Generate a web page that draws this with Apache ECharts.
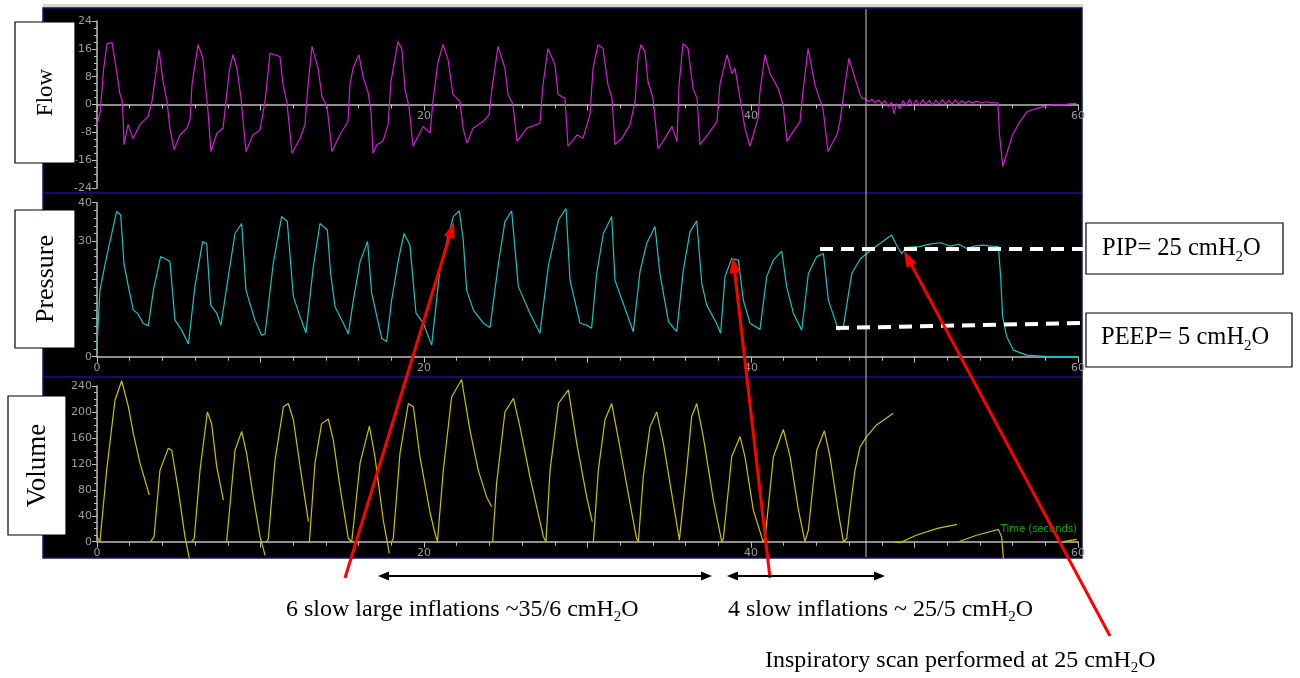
<!DOCTYPE html>
<html>
<head>
<meta charset="utf-8">
<script src="https://cdn.jsdelivr.net/npm/echarts@6/dist/echarts.min.js"></script>
<style>
  html, body { margin: 0; padding: 0; background: #fff; }
  #chart { width: 1300px; height: 678px; }
</style>
</head>
<body>
<div id="chart"></div>
<script>
// time axis (seconds)
var timeTicks = [0, 20, 40, 60];

// flow trace [t, flow]
var flowData = [
  [0, -6], [0.2, -2], [0.4, 10], [0.61, 17.5], [0.92, 17.8], [0.98, 16], [1.22, 9], [1.4, 3], [1.53, 1.4], [1.6, -4],
  [1.65, -11.5], [1.9, -5.7], [2.2, -9.8], [2.63, -5.8], [3.12, -3.4], [3.36, 0.8], [3.6, 9], [3.79, 15.8], [4.04, 6.6], [4.28, 0.9],
  [4.46, -6.8], [4.71, -13], [5.08, -8.7], [5.5, -6.8], [5.69, -4.4], [5.81, 5.7], [6.18, 17.2], [6.48, 13.3], [6.67, 3.7], [6.79, -2],
  [6.97, -13.5], [7.34, -8.2], [7.71, -6.8], [7.89, 0.9], [8.1, 10], [8.32, 14.3], [8.56, 10.4], [8.81, 1.8], [9.11, -13.5], [9.54, -8.7],
  [9.97, -7.3], [10.28, 0.9], [10.58, 14.7], [11.19, 13.8], [11.38, 5.7], [11.62, 0.4], [11.93, -14], [12.42, -9.7], [12.72, -5.8], [12.91, 5.7],
  [13.15, 16.7], [13.52, 10.4], [13.76, 2.3], [14.07, -0.6], [14.37, -13.5], [14.86, -8.7], [15.35, -4.9], [15.47, 5.7], [15.66, 10.4], [16.02, 14.3],
  [16.27, 8], [16.57, 3.7], [16.76, -2], [16.88, -14], [17.13, -11.5], [17.49, -10.6], [17.8, -5.8], [17.98, 6.6], [18.41, 18.1], [18.65, 15.8],
  [18.84, 4.3], [19.08, -0.6], [19.33, -12], [19.94, -6.3], [20.37, -8.2], [20.55, 0.9], [20.85, 12], [21.16, 17.2], [21.47, 12.9], [21.77, 2.9],
  [22.2, 0.9], [22.39, -6.8], [22.63, -11.1], [23.0, -6.8], [23.61, -4.9], [23.98, -3], [24.16, 4.7], [24.53, 16.7], [24.95, 10.4], [25.14, 2.9],
  [25.44, 0], [25.69, -10.6], [26.3, -6.8], [27.09, -5.4], [27.28, 5.7], [27.58, 16.1], [28.01, 11.5], [28.2, 2.9], [28.62, 1.8], [28.81, -12],
  [29.36, -8.7], [29.72, -9.7], [30.15, -3], [30.34, 10.4], [30.64, 17.2], [30.95, 16.1], [31.25, 5.7], [31.5, 1.8], [31.68, -11.5], [32.11, -9.7],
  [32.6, -5.8], [32.91, 0.9], [33.09, 13.3], [33.27, 17.2], [33.52, 15.2], [33.7, 6.6], [34.01, 1.8], [34.31, -12.6], [34.62, -10.6], [35.17, -6.3],
  [35.47, -10.6], [35.6, 5.7], [35.84, 17.5], [36.15, 16.1], [36.45, 4.7], [36.7, 1.8], [36.88, -11.5], [37.49, -7.8], [37.92, -4.9], [38.1, 5.7],
  [38.53, 14.3], [38.84, 8.9], [39.02, 10.4], [39.33, 1.8], [39.63, -6.8], [39.94, -12], [40.43, -4], [40.55, 3.7], [40.86, 14.3], [41.16, 8.9],
  [41.65, 4.7], [41.96, 0], [42.2, -10.6], [42.57, -7.8], [43.0, -4.9], [43.18, 3.7], [43.49, 16.1], [43.91, 5.7], [44.1, 2.9], [44.4, -1.1],
  [44.71, -13.5], [45.26, -8.7], [45.44, -4.9], [45.75, 5.7], [45.99, 13.3], [46.36, 7.5], [46.67, 2.9], [46.79, 1.8],
  [47.0, 1.6], [47.2, 0.8], [47.4, 1.5], [47.6, 0.5], [47.8, 1.3], [48.0, 0.2], [48.2, 1.1], [48.4, -0.6], [48.6, 0.6], [48.75, -2.6],
  [48.9, 0.3], [49.1, -1.2], [49.3, 1.1], [49.5, -0.4], [49.7, 1.4], [49.9, -0.3], [50.1, 1.3], [50.3, -0.2], [50.5, 1.4], [50.7, 0],
  [50.9, 1.2], [51.1, -0.3], [51.3, 1.3], [51.5, 0], [51.7, 1.4], [51.9, 0.1], [52.1, 1.2], [52.3, 0.1], [52.5, 1.3], [52.7, 0.2],
  [52.9, 1.1], [53.1, 0.3], [53.3, 1.0], [53.5, 0.4], [53.8, 0.9], [54.1, 0.5], [54.4, 0.8], [54.7, 0.5], [55.1, 0.5], [55.2, -8.7],
  [55.4, -17.8], [56.0, -8.7], [56.45, -4.9], [56.9, -2], [57.5, -1.1], [57.9, -0.6], [58.5, 0], [59.0, -0.2], [59.5, 0.2], [59.9, 0.3]
];

// pressure trace [t, cmH2O]
var pressureData = [
  [0, 2.6], [0.18, 17.3], [0.59, 26], [1.2, 37.7], [1.45, 36.8], [1.65, 24.2], [1.92, 18.2], [2.22, 12.1], [2.47, 11.3], [2.83, 8.7],
  [3.14, 8], [3.45, 17.3], [3.89, 26], [4.16, 25.5], [4.46, 24.7], [4.77, 9.5], [5.18, 6.9], [5.59, 3.3], [5.99, 18.2], [6.46, 29.9],
  [6.71, 29.4], [6.95, 13.4], [7.32, 11.3], [7.58, 8.2], [8.03, 20.8], [8.44, 32], [8.85, 34.6], [9.11, 17.3], [9.66, 9.5], [10.07, 5.6],
  [10.28, 5.9], [10.78, 24.2], [11.29, 36.4], [11.64, 35.1], [12.01, 15.6], [12.42, 10.4], [12.78, 6.2], [13.23, 23.4], [13.64, 34.6], [14.09, 32.9],
  [14.29, 21.6], [14.56, 13], [15.07, 8.7], [15.37, 5.9], [15.68, 14.7], [16.09, 24.7], [16.55, 29.9], [16.8, 16.5], [17.41, 4.8], [17.72, 3.9],
  [18.02, 14.7], [18.43, 25.1], [18.78, 32], [19.14, 29], [19.51, 11.3], [19.96, 8.7], [20.47, 3], [20.98, 23], [21.79, 36.4], [22.16, 37.9],
  [22.4, 30.3], [22.61, 17.3], [23.02, 12.1], [23.63, 8.7], [24.04, 7.6], [24.55, 24.2], [24.95, 35.1], [25.36, 37.9], [25.77, 18.2], [26.48, 11.3],
  [27.09, 6.1], [27.6, 23.4], [28.22, 35.5], [28.69, 38.5], [28.93, 19.9], [29.54, 8.7], [29.95, 8.2], [30.25, 7.4], [30.56, 21.6], [30.97, 32],
  [31.48, 36.4], [31.68, 19.9], [32.29, 12.6], [32.8, 6.5], [33.21, 22.1], [33.62, 29.4], [34.13, 33.8], [34.43, 21.6], [34.95, 9.1], [35.46, 6.5],
  [35.86, 22.5], [36.27, 32.5], [36.68, 35.3], [36.99, 19], [37.29, 13.4], [37.89, 8.7], [38.14, 6.1], [38.41, 20.8], [38.82, 25.5], [39.23, 25.1],
  [39.53, 14.7], [39.94, 8.7], [40.55, 7.1], [40.96, 20.8], [41.37, 25.1], [41.88, 27.4], [42.18, 18.2], [42.59, 11.3], [43.1, 6.9], [43.51, 21.6],
  [44.02, 26], [44.43, 26.8], [44.73, 14.7], [45.35, 6.9], [45.65, 7.8], [46.16, 21.6], [46.67, 25.3], [47.28, 27.5], [47.89, 29.4], [48.6, 31.6],
  [48.9, 29], [49.21, 26.8], [49.5, 28.4], [50.3, 28.6], [51.0, 29.3], [51.6, 29.6], [52.2, 28.7], [52.7, 29.2], [53.2, 28.1], [53.7, 28.8],
  [54.2, 29], [54.7, 28.7], [55.13, 28.6], [55.27, 20.8], [55.39, 10.4], [55.64, 5.2], [56.05, 1.7], [56.86, 0.4], [58, 0.1], [59.92, 0]
];

// volume trace [t, ml], null = pen lifted
var volumeData = [
  [0, 7.7], [0.18, 0], [0.3, 0], [0.59, 110], [1.1, 218], [1.51, 248], [1.92, 208], [2.22, 167], [2.63, 121], [3.2, 72], null,
  [3.28, 0], [3.49, 7.7], [3.85, 110], [4.36, 144], [4.57, 141], [4.97, 80], [5.38, 7.7], [5.65, -26], null,
  [5.79, 0], [5.95, 5], [6.3, 110], [6.75, 200], [7.01, 182], [7.32, 116], [7.73, 64], null,
  [7.93, 0], [8.03, 2.5], [8.44, 141], [8.85, 170], [9.15, 136], [9.56, 69], [9.97, 7.7], [10.28, -21], null,
  [10.38, 0], [10.48, 5], [10.89, 126], [11.4, 208], [11.7, 213], [12.01, 188], [12.42, 116], [12.93, 31], null,
  [12.99, 0], [13.33, 121], [13.74, 182], [14.15, 189], [14.45, 157], [14.86, 85], [15.37, 5], [15.58, 0],
  [15.68, 2.5], [16.09, 121], [16.66, 178], [17.0, 131], [17.51, 33], [17.88, -18], null,
  [18.02, 0], [18.12, 5], [18.53, 136], [19.04, 213], [19.35, 208], [19.75, 131], [20.37, 45], [20.67, 13], [20.82, 0],
  [21.18, 110], [21.69, 223], [22.3, 250], [22.81, 172], [23.32, 110], [23.83, 69], [24.14, 54], null,
  [24.2, 0], [24.44, 90], [24.95, 200], [25.47, 221], [25.87, 177], [26.48, 100], [27.3, 7.7], [27.46, 0],
  [27.71, 110], [28.22, 213], [28.83, 234], [29.34, 152], [29.95, 69], [30.29, 31], null,
  [30.36, 0], [30.66, 110], [31.07, 188], [31.48, 213], [31.98, 146], [32.6, 59], [33.0, 5], [33.11, 0],
  [33.41, 100], [33.82, 177], [34.23, 200], [34.64, 152], [35.25, 59], [35.62, 2.5], [35.7, 0],
  [36.06, 110], [36.37, 193], [36.68, 213], [37.08, 162], [37.7, 64], [38.21, 0],
  [38.31, 5], [38.82, 131], [39.33, 162], [39.63, 131], [40.14, 49], [40.65, 7.7], [40.75, 0],
  [40.86, 5], [41.37, 131], [41.98, 173], [42.39, 131], [42.9, 49], [43.3, 0],
  [43.51, 18], [44.02, 141], [44.49, 171], [44.83, 131], [45.35, 44], [45.65, 0],
  [45.85, 5], [46.05, 49], [46.36, 110], [46.67, 146], [47.07, 162], [47.68, 180], [48.7, 198], null,
  [48.8, 0], [49.1, -1.5], [50.1, 10], [51.4, 20.5], [52.6, 26.7], null,
  [52.7, 0], [53.8, 10], [55.13, 19], [55.33, 7.7], [55.44, -26], null,
  [59.1, 0], [59.92, 3.6]
];

var chart = echarts.init(document.getElementById('chart'));

var AXIS = '#bdbdbd';
var LBL = '#9c9c9c';
var SERIF = '"Liberation Serif", "Times New Roman", serif';

function timeAxis(idx, showZero, offset) {
  return {
    type: 'value', gridIndex: idx, min: 0, max: 60, interval: 10,
    offset: offset || 0,
    axisLine: { onZero: false, lineStyle: { color: AXIS, width: 1.5 } },
    axisTick: { length: 6, lineStyle: { color: AXIS } },
    minorTick: { show: true, splitNumber: 5, length: 4, lineStyle: { color: AXIS } },
    splitLine: { show: false },
    axisLabel: {
      color: LBL, fontSize: 11, fontFamily: 'DejaVu Sans', margin: 6,
      formatter: function (v) {
        if (timeTicks.indexOf(v) < 0) return '';
        if (v === 0 && !showZero) return '';
        return v;
      }
    }
  };
}

function valueAxis(idx, min, max, step, minor, hide) {
  return {
    type: 'value', gridIndex: idx, min: min, max: max, interval: step,
    axisLine: { show: true, onZero: false, lineStyle: { color: AXIS, width: 1.5 } },
    axisTick: { show: true, length: 5, lineStyle: { color: AXIS } },
    minorTick: { show: true, splitNumber: minor, length: 3, lineStyle: { color: AXIS } },
    splitLine: { show: false },
    axisLabel: {
      color: LBL, fontSize: 11, fontFamily: 'DejaVu Sans', margin: 5,
      formatter: function (v) { return hide && hide.indexOf(v) >= 0 ? '' : v; }
    }
  };
}

// arrow built from a line and a triangle head
function arrow(x1, y1, x2, y2, color, w, hl, hw, both) {
  var out = [];
  var a = Math.atan2(y2 - y1, x2 - x1);
  function head(tx, ty, ang) {
    var bx = tx - hl * Math.cos(ang), by = ty - hl * Math.sin(ang);
    var px = Math.sin(ang) * hw / 2, py = -Math.cos(ang) * hw / 2;
    return {
      type: 'polygon', z: 100,
      shape: { points: [[tx, ty], [bx + px, by + py], [bx - px, by - py]] },
      style: { fill: color }
    };
  }
  var sx = both ? x1 + (hl - 2) * Math.cos(a) : x1, sy = both ? y1 + (hl - 2) * Math.sin(a) : y1;
  out.push({
    type: 'line', z: 100,
    shape: { x1: sx, y1: sy, x2: x2 - (hl - 2) * Math.cos(a), y2: y2 - (hl - 2) * Math.sin(a) },
    style: { stroke: color, lineWidth: w }
  });
  out.push(head(x2, y2, a));
  if (both) out.push(head(x1, y1, a + Math.PI));
  return out;
}

function labelBox(x, y, w, h, txt, size) {
  return [
    { type: 'rect', z: 100, shape: { x: x, y: y, width: w, height: h }, style: { fill: '#fff', stroke: '#000', lineWidth: 1.2 } },
    { type: 'text', z: 101, x: x + w / 2 + 1, y: y + h / 2, rotation: Math.PI / 2,
      style: { text: txt, fontFamily: SERIF, fontSize: size, fill: '#000', align: 'center', verticalAlign: 'middle' } }
  ];
}

function noteText(x, y, txt, size) {
  return {
    type: 'text', z: 101, x: x, y: y,
    style: {
      text: txt, fontFamily: SERIF, fontSize: size, fill: '#000', lineHeight: size + 6,
      verticalAlign: 'middle',
      rich: { s: { fontFamily: SERIF, fontSize: Math.round(size * 0.62), lineHeight: 10, verticalAlign: 'bottom' } }
    }
  };
}

var graphics = [
  { type: 'rect', z: -10, shape: { x: 43, y: 4, width: 1040, height: 4 }, style: { fill: '#d9d6ce' } },
  { type: 'rect', z: -10, shape: { x: 43, y: 8, width: 1039, height: 550 }, style: { fill: '#000', stroke: '#14146a', lineWidth: 1.5 } },
  { type: 'line', z: -5, shape: { x1: 43, y1: 193, x2: 1082, y2: 193 }, style: { stroke: '#16168c', lineWidth: 1.5 } },
  { type: 'line', z: -5, shape: { x1: 43, y1: 377, x2: 1082, y2: 377 }, style: { stroke: '#16168c', lineWidth: 1.5 } },
  { type: 'line', z: 50, shape: { x1: 866, y1: 9, x2: 866, y2: 557 }, style: { stroke: '#c4c4c4', lineWidth: 1 } },
  { type: 'text', z: 60, x: 1077, y: 529,
    style: { text: 'Time (seconds)', fontFamily: 'DejaVu Sans', fontSize: 10, fill: '#00b000', align: 'right', verticalAlign: 'middle' } },
  // PIP / PEEP dashed levels
  { type: 'line', z: 90, shape: { x1: 820, y1: 249, x2: 1083, y2: 249 }, style: { stroke: '#fff', lineWidth: 4, lineDash: [13, 8] } },
  { type: 'line', z: 90, shape: { x1: 836, y1: 328, x2: 1083, y2: 323 }, style: { stroke: '#fff', lineWidth: 4, lineDash: [13, 8] } },
  { type: 'rect', z: 100, shape: { x: 1086, y: 223, width: 197, height: 51 }, style: { fill: '#fff', stroke: '#000', lineWidth: 1.2 } },
  { type: 'rect', z: 100, shape: { x: 1086, y: 313, width: 206, height: 54 }, style: { fill: '#fff', stroke: '#000', lineWidth: 1.2 } },
  noteText(1102, 249, 'PIP= 25 cmH{s|2}O', 24.5),
  noteText(1101, 338, 'PEEP= 5 cmH{s|2}O', 24.5),
  noteText(286, 610, '6 slow large inflations ~35/6 cmH{s|2}O', 24),
  noteText(728, 610, '4 slow inflations ~ 25/5 cmH{s|2}O', 24),
  noteText(765, 661, 'Inspiratory scan performed at 25 cmH{s|2}O', 24)
];
graphics = graphics
  .concat(labelBox(15, 22, 60, 141, 'Flow', 23))
  .concat(labelBox(15, 210, 60, 138, 'Pressure', 26))
  .concat(labelBox(8, 396, 58, 139, 'Volume', 27))
  .concat(arrow(345, 578, 454, 222, '#ff0000', 3, 16, 11))
  .concat(arrow(770, 578, 733, 257, '#ff0000', 3, 16, 11))
  .concat(arrow(1110, 636, 904, 251, '#ff0000', 3, 16, 11))
  .concat(arrow(378, 576, 712, 576, '#000', 2, 11, 9, true))
  .concat(arrow(727, 576, 885, 576, '#000', 2, 11, 9, true));

var option = {
  backgroundColor: '#fff',
  animation: false,
  grid: [
    { left: 97, top: 21, width: 981, height: 167 },
    { left: 97, top: 202.7, width: 981, height: 154 },
    { left: 97, top: 386, width: 981, height: 155.7 }
  ],
  // flow time axis sits on the zero line, half way up its grid
  xAxis: [timeAxis(0, false, -83.5), timeAxis(1, true), timeAxis(2, true)],
  yAxis: [
    valueAxis(0, -24, 24, 8, 4),
    valueAxis(1, 0, 40, 10, 5, [10, 20]),
    valueAxis(2, 0, 240, 40, 4)
  ],
  series: [
    { name: 'Flow', type: 'line', xAxisIndex: 0, yAxisIndex: 0, data: flowData, showSymbol: false,
      lineStyle: { color: '#d21ed2', width: 1.2 }, itemStyle: { color: '#d21ed2' } },
    { name: 'Pressure', type: 'line', xAxisIndex: 1, yAxisIndex: 1, data: pressureData, showSymbol: false,
      lineStyle: { color: '#19c3c3', width: 1.2 }, itemStyle: { color: '#19c3c3' } },
    { name: 'Volume', type: 'line', xAxisIndex: 2, yAxisIndex: 2, data: volumeData, showSymbol: false,
      clip: false, connectNulls: false,
      lineStyle: { color: '#c9c400', width: 1.2 }, itemStyle: { color: '#c9c400' } }
  ],
  graphic: graphics
};
chart.setOption(option);
</script>
</body>
</html>
